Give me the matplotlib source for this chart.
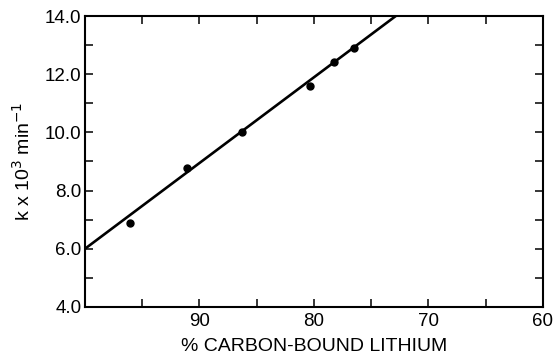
import matplotlib
matplotlib.use("Agg")
import matplotlib.pyplot as plt
from matplotlib.ticker import MultipleLocator, FormatStrFormatter

plt.rcParams['font.family'] = ['Liberation Sans', 'DejaVu Sans']

# data
pct_carbon_li = [96.1, 91.1, 86.3, 80.3, 78.25, 76.5]
k_x1e3 = [6.88, 8.76, 10.03, 11.6, 12.43, 12.89]
fit_x = [100.0, 72.85]
fit_y = [6.0, 14.0]
x_ticks = [90, 80, 70, 60]
y_ticks = [4.0, 6.0, 8.0, 10.0, 12.0, 14.0]

fig = plt.figure(figsize=(5.57, 3.59), dpi=100)
ax = fig.add_axes([0.1526, 0.145, 0.822, 0.8104])

ax.plot(fit_x, fit_y, color='black', lw=1.9, solid_capstyle='butt')
ax.plot(pct_carbon_li, k_x1e3, 'o', color='black', ms=5)

ax.set_xlim(100, 60)
ax.set_ylim(4, 14)
ax.set_xticks(x_ticks)
ax.set_yticks(y_ticks)
ax.xaxis.set_minor_locator(MultipleLocator(5))
ax.yaxis.set_minor_locator(MultipleLocator(1))
ax.yaxis.set_major_formatter(FormatStrFormatter('%.1f'))

ax.tick_params(which='both', direction='in', top=True, right=True,
               labelsize=13.5, width=1.1, color='black')
ax.tick_params(which='both', length=5.5)
ax.tick_params(axis='y', pad=2.5)
ax.tick_params(axis='x', pad=4)
for s in ax.spines.values():
    s.set_linewidth(1.5)

ax.set_xlabel('% CARBON-BOUND LITHIUM', fontsize=14, labelpad=6)
ax.set_ylabel('k x 10$^{3}$ min$^{-1}$', fontsize=14, labelpad=8)

fig.savefig('out.png', dpi=100)
